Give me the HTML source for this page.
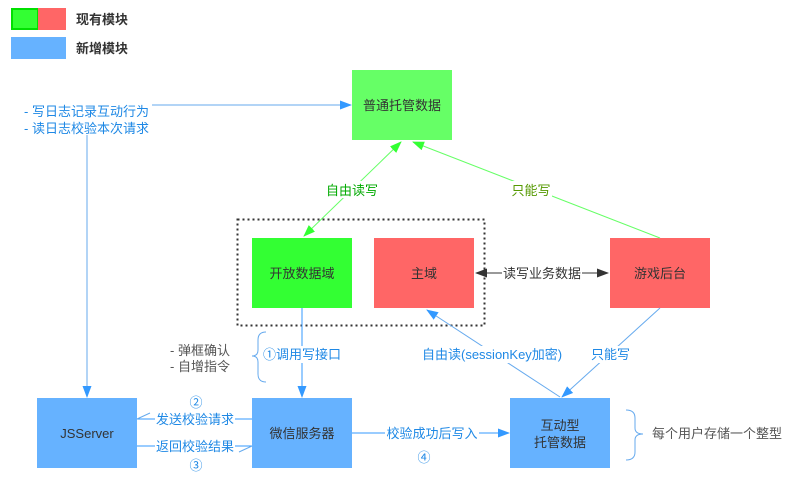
<!DOCTYPE html>
<html><head><meta charset="utf-8"><style>
html,body{margin:0;padding:0;background:#fff;}
svg{display:block;}
text{font-family:"Liberation Sans","Noto Sans CJK SC",sans-serif;font-size:13px;}
</style></head><body>
<svg width="790" height="484" viewBox="0 0 790 484" xmlns="http://www.w3.org/2000/svg">
<defs>
<marker id="ab" markerWidth="12" markerHeight="9" refX="11" refY="4.5" orient="auto" markerUnits="userSpaceOnUse"><path d="M0,0L12,4.5L0,9z" fill="#3399ff"/></marker>
<marker id="ag" markerWidth="12" markerHeight="9" refX="11" refY="4.5" orient="auto-start-reverse" markerUnits="userSpaceOnUse"><path d="M0,0L12,4.5L0,9z" fill="#33ff33"/></marker>
<marker id="ak" markerWidth="12" markerHeight="9" refX="11" refY="4.5" orient="auto-start-reverse" markerUnits="userSpaceOnUse"><path d="M0,0L12,4.5L0,9z" fill="#333"/></marker>
</defs>
<!-- legend -->
<rect x="12" y="9" width="26" height="20" fill="#33ff33" stroke="#00e000" stroke-width="2"/>
<rect x="38" y="8" width="28" height="22" fill="#ff6666"/>
<rect x="11" y="37" width="55" height="22" fill="#66b2ff"/>
<text x="76" y="24" font-weight="bold" fill="#333">现有模块</text>
<text x="76" y="53" font-weight="bold" fill="#333">新增模块</text>

<!-- dotted container -->
<rect x="237.5" y="219.5" width="247" height="106" fill="none" stroke="#333" stroke-width="2" stroke-dasharray="2,3"/>

<!-- boxes -->
<rect x="352" y="70" width="100" height="70" fill="#66ff66"/>
<text x="402" y="110" text-anchor="middle" fill="#333">普通托管数据</text>
<rect x="252" y="238" width="100" height="70" fill="#33ff33"/>
<text x="302" y="278" text-anchor="middle" fill="#333">开放数据域</text>
<rect x="374" y="238" width="100" height="70" fill="#ff6666"/>
<text x="424" y="278" text-anchor="middle" fill="#333">主域</text>
<rect x="610" y="238" width="100" height="70" fill="#ff6666"/>
<text x="660" y="278" text-anchor="middle" fill="#333">游戏后台</text>
<rect x="37" y="398" width="100" height="70" fill="#66b2ff"/>
<text x="87" y="438" text-anchor="middle" fill="#333">JSServer</text>
<rect x="252" y="398" width="100" height="70" fill="#66b2ff"/>
<text x="302" y="438" text-anchor="middle" fill="#333">微信服务器</text>
<rect x="510" y="398" width="100" height="70" fill="#66b2ff"/>
<text x="560" y="430" text-anchor="middle" fill="#333">互动型</text>
<text x="560" y="447" text-anchor="middle" fill="#333">托管数据</text>

<!-- JS log lines -->
<line x1="152" y1="105" x2="351" y2="105" stroke="#66aaee" marker-end="url(#ab)"/>
<line x1="87" y1="135" x2="87" y2="397" stroke="#66aaee" marker-end="url(#ab)"/>
<text x="24" y="116" fill="#1e88e5">- 写日志记录互动行为</text>
<text x="24" y="133" fill="#1e88e5">- 读日志校验本次请求</text>

<!-- green arrows -->
<line x1="304" y1="236" x2="401" y2="142" stroke="#66ff66" marker-start="url(#ag)" marker-end="url(#ag)"/>
<rect x="324" y="181" width="56" height="17" fill="#fff"/>
<text x="352" y="195" text-anchor="middle" fill="#00aa00">自由读写</text>
<line x1="660" y1="238" x2="413" y2="142" stroke="#66ff66" marker-end="url(#ag)"/>
<rect x="510" y="181" width="42" height="17" fill="#fff"/>
<text x="531" y="195" text-anchor="middle" fill="#559900">只能写</text>

<!-- 读写业务数据 -->
<line x1="476" y1="273" x2="608" y2="273" stroke="#333" marker-start="url(#ak)" marker-end="url(#ak)"/>
<rect x="502" y="265" width="80" height="17" fill="#fff"/>
<text x="542" y="278" text-anchor="middle" fill="#333">读写业务数据</text>

<!-- 开放数据域 -> 微信服务器 -->
<line x1="302" y1="308" x2="302" y2="397" stroke="#3399ff" marker-end="url(#ab)"/>
<rect x="263" y="346" width="80" height="17" fill="#fff"/>
<text x="263" y="359" fill="#1e88e5">①调用写接口</text>
<path d="M266,332 Q258,332 258,340 L258,350 Q258,356 252,356 Q258,356 258,362 L258,374 Q258,382 266,382" fill="none" stroke="#66aaee"/>
<text x="170" y="355" fill="#555">- 弹框确认</text>
<text x="170" y="371" fill="#555">- 自增指令</text>

<!-- 互动型 -> 主域 -->
<line x1="560" y1="397" x2="427" y2="310" stroke="#66aaee" marker-end="url(#ab)"/>
<rect x="420" y="346" width="146" height="17" fill="#fff"/>
<text x="422" y="359" fill="#1e88e5">自由读(sessionKey加密)</text>
<!-- 游戏后台 -> 互动型 -->
<line x1="660" y1="308" x2="562" y2="397" stroke="#66aaee" marker-end="url(#ab)"/>
<rect x="590" y="346" width="42" height="17" fill="#fff"/>
<text x="591" y="359" fill="#1e88e5">只能写</text>

<!-- 微信 -> 互动 -->
<line x1="352" y1="433" x2="509" y2="433" stroke="#3399ff" marker-end="url(#ab)"/>
<rect x="385" y="425" width="94" height="17" fill="#fff"/>
<text x="432" y="438" text-anchor="middle" fill="#1e88e5">校验成功后写入</text>
<text x="424" y="462" text-anchor="middle" fill="#1e88e5">④</text>

<!-- 微信 <-> JSServer -->
<line x1="137" y1="419" x2="252" y2="419" stroke="#3399ff"/>
<line x1="137" y1="419" x2="150" y2="413" stroke="#66aaee"/>
<rect x="155" y="411" width="80" height="17" fill="#fff"/>
<text x="195" y="424" text-anchor="middle" fill="#1e88e5">发送校验请求</text>
<text x="196" y="407" text-anchor="middle" fill="#1e88e5">②</text>
<line x1="137" y1="446" x2="252" y2="446" stroke="#3399ff"/>
<line x1="252" y1="446" x2="239" y2="452" stroke="#66aaee"/>
<rect x="155" y="438" width="80" height="17" fill="#fff"/>
<text x="195" y="451" text-anchor="middle" fill="#1e88e5">返回校验结果</text>
<text x="196" y="470" text-anchor="middle" fill="#1e88e5">③</text>

<!-- right brace -->
<path d="M626,410 Q635,410 635,418 L635,428 Q635,434 643,434 Q635,434 635,440 L635,452 Q635,460 626,460" fill="none" stroke="#66aaee"/>
<text x="652" y="438" fill="#555">每个用户存储一个整型</text>
</svg>
</body></html>
